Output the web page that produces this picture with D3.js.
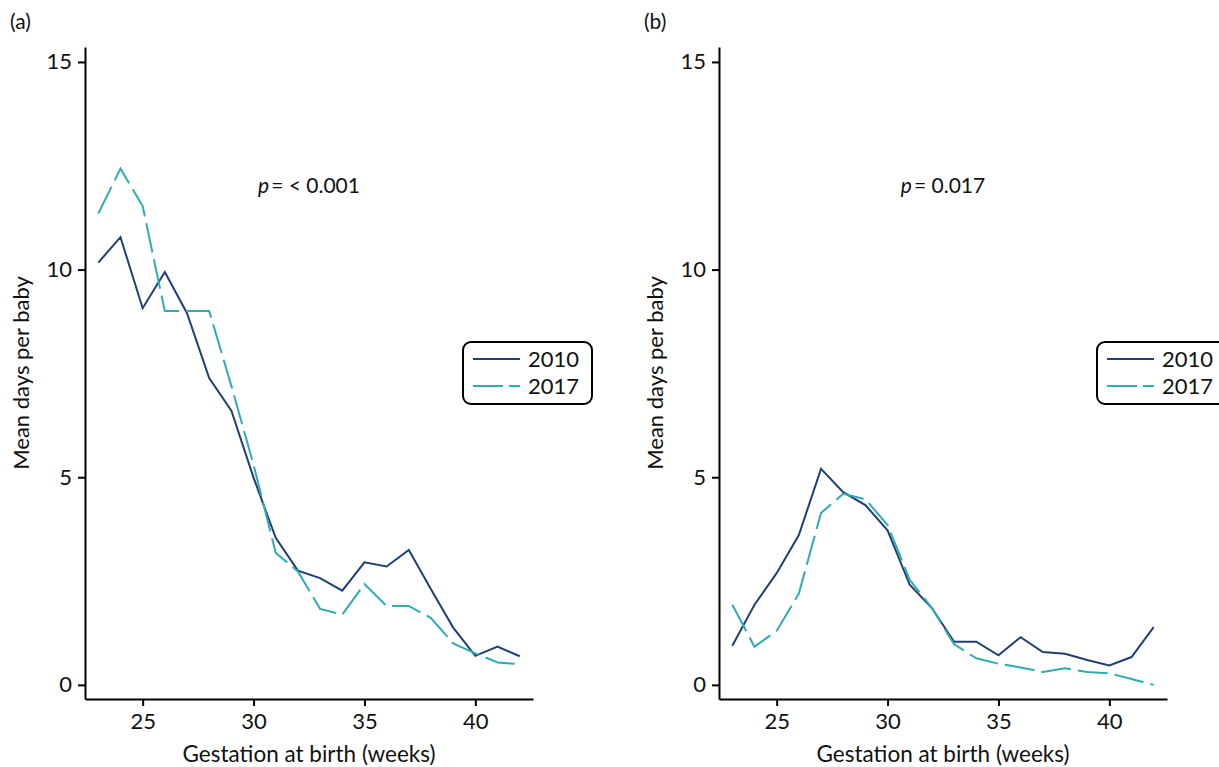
<!DOCTYPE html>
<html><head><meta charset="utf-8">
<script src="https://cdn.jsdelivr.net/npm/d3@7"></script>
<style>
body{margin:0;background:#fff;}
svg{font-family:Lato,"Open Sans",sans-serif;}
</style></head>
<body><svg id="c" width="1219" height="767"></svg>
<script>
const weeks = [23,24,25,26,27,28,29,30,31,32,33,34,35,36,37,38,39,40,41,42];
const a2010 = [10.17,10.78,9.07,9.94,8.95,7.39,6.6,4.99,3.54,2.75,2.57,2.27,2.95,2.85,3.25,2.3,1.38,0.70,0.92,0.69];
const a2017 = [11.35,12.43,11.53,9.0,9.0,9.0,7.2,5.3,3.18,2.73,1.83,1.69,2.43,1.9,1.9,1.61,1.0,0.76,0.54,0.5];
const b2010 = [0.94,1.93,2.69,3.61,5.2,4.64,4.33,3.72,2.41,1.85,1.04,1.04,0.71,1.15,0.79,0.75,0.60,0.47,0.67,1.39];
const b2017 = [1.93,0.92,1.3,2.2,4.14,4.6,4.47,3.85,2.53,1.85,0.98,0.64,0.51,0.42,0.31,0.40,0.31,0.28,0.14,0.0];
const xTicks = [25,30,35,40];
const yTicks = [0,5,10,15];
const seriesNames = ["2010","2017"];
const colors = ["#1f3f75","#2eacb3"];
const panelLabels = ["(a)","(b)"];
const pPrefix = "p";
const pValues = ["= < 0.001","= 0.017"];
const xTitle = "Gestation at birth (weeks)";
const yTitle = "Mean days per baby";

const svg = d3.select("#c");
const panels = [
  {dx:0, s:[a2010,a2017]},
  {dx:634, s:[b2010,b2017]}
];
panels.forEach((p,i)=>{
  const g = svg.append("g").attr("transform",`translate(${p.dx},0)`);
  const x = d3.scaleLinear().domain([22.4,42.6]).range([85,533]);
  const y = d3.scaleLinear().domain([-0.34,15.36]).range([699,47]);
  const xa = g.append("g").attr("transform","translate(0,699)")
    .call(d3.axisBottom(x).tickValues(xTicks).tickSize(7).tickPadding(7).tickSizeOuter(0));
  const ya = g.append("g").attr("transform","translate(85,0)")
    .call(d3.axisLeft(y).tickValues(yTicks).tickSize(7).tickPadding(6).tickSizeOuter(0));
  [xa,ya].forEach(a=>{
    a.selectAll("path,line").attr("stroke","#000").attr("stroke-width",2);
    a.selectAll("text").attr("font-size",22).attr("fill","#111").style("font-family","Lato");
  });
  const line = d3.line().x((d,k)=>x(weeks[k])).y(d=>y(d));
  p.s.forEach((vals,k)=>{
    g.append("path").datum(vals).attr("d",line).attr("fill","none")
      .attr("stroke",colors[k]).attr("stroke-width",2)
      .attr("stroke-dasharray",k===1?"30,7":null);
  });
  g.append("text").attr("x",10).attr("y",29).attr("font-size",21).attr("fill","#111").text(panelLabels[i]);
  const t = g.append("text").attr("x",309).attr("y",193).attr("text-anchor","middle").attr("font-size",21).attr("fill","#111");
  t.append("tspan").attr("font-style","italic").text(pPrefix);
  t.append("tspan").attr("dx",2).text(pValues[i]);
  g.append("text").attr("x",309).attr("y",762).attr("text-anchor","middle").attr("font-size",22.5).attr("fill","#111").text(xTitle);
  g.append("text").attr("transform","translate(29,373) rotate(-90)").attr("text-anchor","middle").attr("font-size",22).attr("fill","#111").text(yTitle);
  const lg = g.append("g");
  lg.append("rect").attr("x",463).attr("y",342).attr("width",129).attr("height",62).attr("rx",8)
    .attr("fill","#fff").attr("stroke","#000").attr("stroke-width",2);
  seriesNames.forEach((n,k)=>{
    const yy = 359 + k*27;
    lg.append("line").attr("x1",473).attr("x2",520).attr("y1",yy).attr("y2",yy)
      .attr("stroke",colors[k]).attr("stroke-width",2).attr("stroke-dasharray",k===1?"30,6":null);
    lg.append("text").attr("x",528).attr("y",yy+8).attr("font-size",22).attr("fill","#111").text(n);
  });
});
</script></body></html>
